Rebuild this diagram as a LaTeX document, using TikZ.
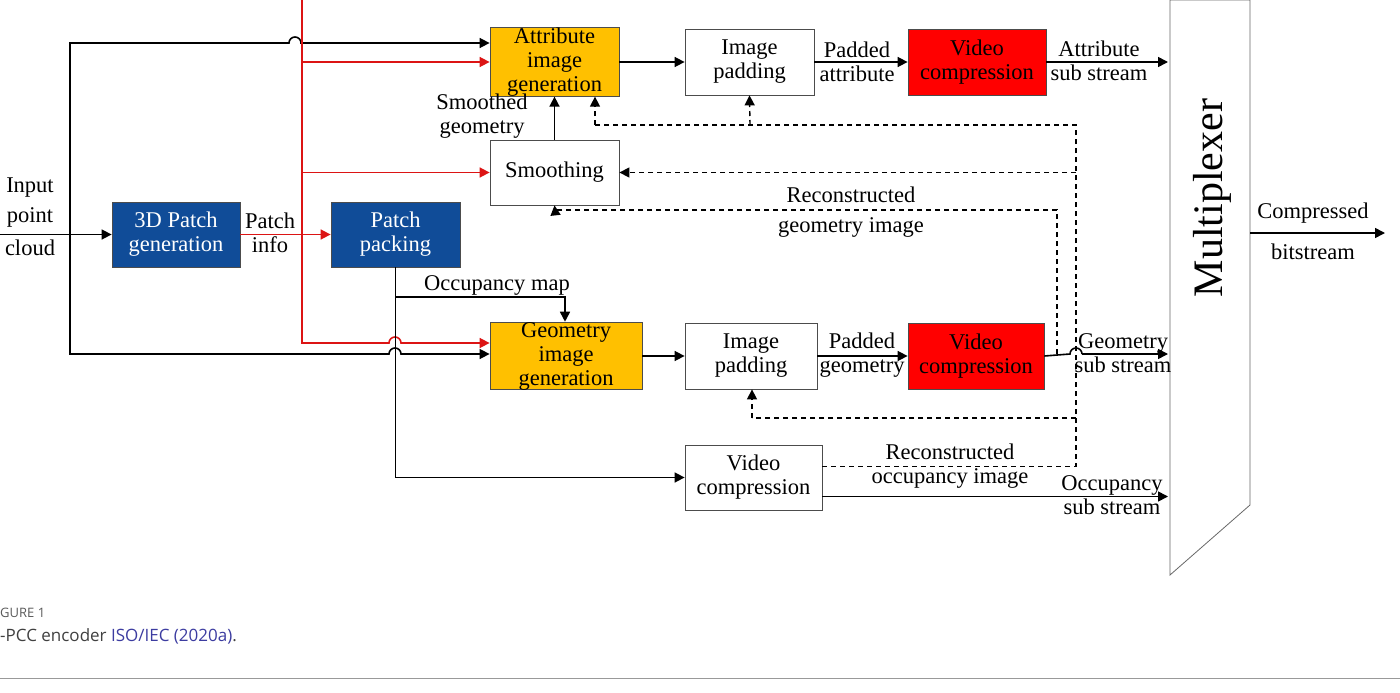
\documentclass[tikz,border=0pt]{standalone}
\usepackage{fontspec}
\setmainfont{Liberation Serif}
\newfontfamily\capfont{Open Sans}
\usetikzlibrary{arrows.meta}
\definecolor{patchblue}{RGB}{16,76,152}
\definecolor{genorange}{RGB}{255,192,0}
\definecolor{vidred}{RGB}{255,0,0}
\definecolor{redline}{RGB}{220,20,20}
\definecolor{capblue}{RGB}{60,60,160}
\tikzset{
  blk/.style={draw=black!70,line width=0.8pt,align=center,inner sep=0pt,font=\fontsize{22.5}{24}\selectfont},
  bluebox/.style={blk,fill=patchblue,text=white},
  orangebox/.style={blk,fill=genorange},
  redbox/.style={blk,fill=vidred},
  whitebox/.style={blk,fill=white},
  lbl/.style={align=center,inner sep=0pt,font=\fontsize{22.5}{24}\selectfont},
  arr/.style={line width=1.6pt,-{Triangle[length=10pt,width=10pt]}},
  redarr/.style={arr,draw=redline,-{Triangle[length=10pt,width=10pt,fill=redline]}},
  dasharr/.style={arr,dash pattern=on 5pt off 4pt,line width=1.4pt},
}
\begin{document}
\begin{tikzpicture}[x=1pt,y=1pt]
\useasboundingbox (0,0) rectangle (1400,-693);
% blocks
\node[bluebox,minimum width=128,minimum height=65] (pgen) at (176,-234.5) {3D Patch\\generation};
\node[bluebox,minimum width=129,minimum height=65] (ppack) at (395.5,-234.5) {Patch\\packing};
\node[orangebox,minimum width=129,minimum height=66] (attgen) at (554.5,-62) {Attribute\\image\\generation};
\node[whitebox,minimum width=129,minimum height=65] (smooth) at (554.5,-172.5) {Smoothing};
\node[orangebox,minimum width=152,minimum height=66] (geogen) at (566,-356) {Geometry\\image\\generation};
\node[whitebox,minimum width=129,minimum height=66] (apad) at (749.5,-62) {Image\\padding};
\node[redbox,minimum width=138,minimum height=66] (avid) at (977,-62) {Video\\compression};
\node[whitebox,minimum width=132,minimum height=66] (gpad) at (751,-356) {Image\\padding};
\node[redbox,minimum width=136,minimum height=66] (gvid) at (976,-356) {Video\\compression};
\node[whitebox,minimum width=137,minimum height=65] (ovid) at (753.5,-477.5) {Video\\compression};
% multiplexer
\draw[draw=black!60,line width=0.8pt] (1170,0) -- (1250,0) -- (1250,-505) -- (1170,-575) -- cycle;
\node[rotate=90,inner sep=0pt,font=\fontsize{42}{42}\selectfont] (mux) at (1212,-198) {Multiplexer};
\coordinate (muxout) at (1250,-233);
\coordinate (bitout) at (1385,-233);
% input and patch info
\coordinate (in) at (0,-234.5);
\coordinate (split) at (70,-234.5);
\draw[arr] (in) -- (pgen.west);
\draw[line width=1.6pt] (split) |- (289,-43) arc[start angle=180,end angle=0,radius=6] -- (300,-43);
\draw[arr] (300,-43) -- (attgen.west |- 0,-43);
\draw[line width=1.6pt] (split) |- (389,-354) arc[start angle=180,end angle=0,radius=6] -- (404,-354);
\draw[arr] (404,-354) -- (geogen.west |- 0,-354);
\draw[redarr] (pgen.east) -- (ppack.west);
\draw[redline,line width=1.6pt] (302,0) -- (302,-343) -- (389,-343) arc[start angle=180,end angle=0,radius=6] -- (404,-343);
\draw[redarr] (404,-343) -- (geogen.west |- 0,-343);
\draw[redarr] (302,-62) -- (attgen.west |- 0,-62);
\draw[redarr] (302,-172.5) -- (smooth.west);
% occupancy
\draw[arr] (ppack.south) |- (ovid.west);
\draw[arr] (ppack.south |- 0,-297) -| (geogen.north -| 565,0);
\draw[arr] (smooth.north) -- (attgen.south);
% chains
\draw[arr] (attgen.east) -- (apad.west);
\draw[arr] (apad.east) -- (avid.west);
\draw[arr] (avid.east) -- (1168,-62);
\draw[arr] (geogen.east) -- (gpad.west);
\draw[arr] (gpad.east) -- (gvid.west);
\draw[line width=1.6pt] (gvid.east) -- (1070,-354) arc[start angle=180,end angle=0,radius=6] -- (1082,-354);
\draw[arr] (1082,-354) -- (1168,-354);
\draw[arr] ([yshift=-19]ovid.east) -- (1168,-496.5);
\draw[arr] (muxout) -- (bitout);
% feedback
\draw[dasharr,-] ([yshift=11]ovid.east) -- (1076,-466.5) -- (1076,-125) -- (595,-125);
\draw[dasharr] (595,-125) -- (attgen.south -| 595,0);
\draw[dasharr] (750,-125) -- (apad.south);
\draw[dasharr] (1076,-172.5) -- (smooth.east);
\draw[dasharr,-] (1076,-418) -- (752,-418);
\draw[dasharr] (752,-418) -- (gpad.south -| 752,0);
\draw[dasharr,-] (1057,-354) -- (1057,-210) -- (555,-210);
\draw[dasharr] (555,-210) -- (smooth.south);
% labels
\node[lbl] (lin1) at (30,-188) {Input};
\node[lbl] (lin2) at (30,-217) {point};
\node[lbl] (lin3) at (30,-248) {cloud};
\node[lbl] (lpi) at (270,-233) {Patch\\info};
\node[lbl] (locc) at (497,-285) {Occupancy map};
\node[lbl] (lsm) at (482,-116) {Smoothed\\geometry};
\node[lbl] (lpa) at (857,-62) {Padded\\attribute};
\node[lbl] (las) at (1099,-61) {Attribute\\sub stream};
\node[lbl] (lpg) at (862,-355) {Padded\\geometry};
\node[lbl] (lgs) at (1123,-353) {Geometry\\sub stream};
\node[lbl] (los) at (1112,-495) {Occupancy\\sub stream};
\node[lbl] (lrg) at (851,-212) {Reconstructed\\[6pt]geometry image};
\node[lbl] (lro) at (950,-466) {Reconstructed\\occupancy image};
\node[lbl] (lcb) at (1313,-213) {Compressed};
\node[lbl] (lcb2) at (1313,-252) {bitstream};
% caption
\node[anchor=west,inner sep=0pt,text=black!65,font=\capfont\fontsize{13}{15}\selectfont] (cap1) at (0,-613) {GURE 1};
\node[anchor=west,inner sep=0pt,text=black!75,font=\capfont\fontsize{17}{20}\selectfont] (cap2) at (0,-636) {-PCC encoder \textcolor{capblue}{ISO/IEC (2020a)}.};
\draw[black!40,line width=1pt] (0,-678) -- (1400,-678);
\end{tikzpicture}
\end{document}
